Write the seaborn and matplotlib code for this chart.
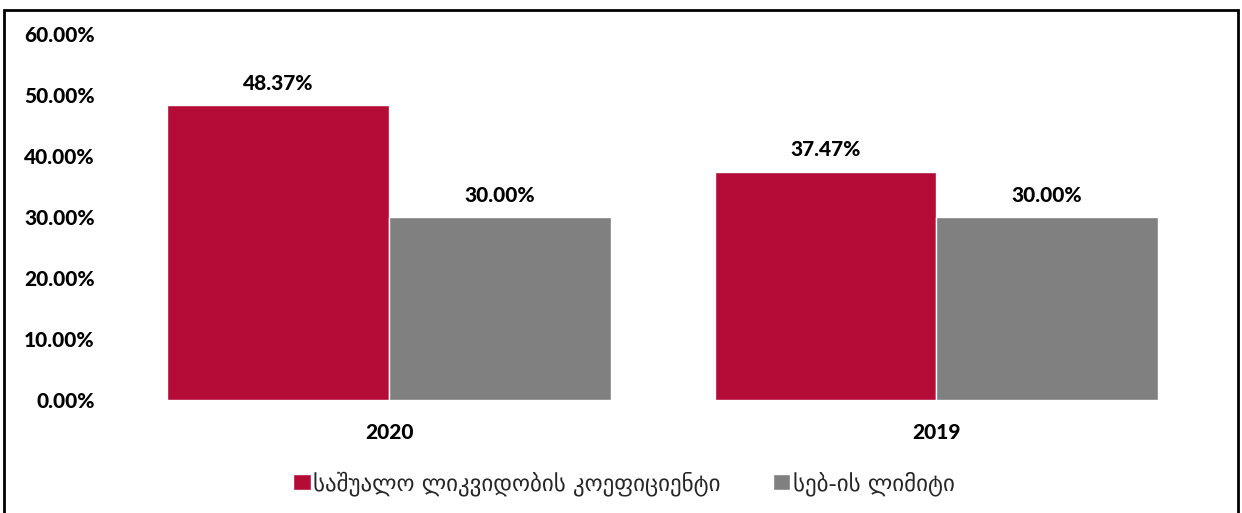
import matplotlib
matplotlib.use("Agg")
import matplotlib.pyplot as plt
import matplotlib.patches as mpatches
import seaborn as sns
import pandas as pd

years = ["2020", "2019"]
series_names = ["საშუალო ლიკვიდობის კოეფიციენტი", "სებ-ის ლიმიტი"]
avg_liquidity = [48.37, 37.47]
nbg_limit = [30.00, 30.00]
yticks = [0, 10, 20, 30, 40, 50, 60]
colors = ["#B40C37", "#808080"]

df = pd.DataFrame({
    "year": years * 2,
    "series": [series_names[0]] * 2 + [series_names[1]] * 2,
    "value": avg_liquidity + nbg_limit,
})

sns.set_theme(style="white")
plt.rcParams["font.family"] = ["Lato", "DejaVu Sans"]

fig = plt.figure(figsize=(12.42, 5.13), dpi=100)
ax = fig.add_axes([0.093, 0.2193, 0.881, 0.7144])

sns.barplot(data=df, x="year", y="value", hue="series", order=years,
            hue_order=series_names, palette=colors, saturation=1, width=0.81,
            edgecolor="white", linewidth=1, ax=ax, legend=True)

for container in ax.containers:
    ax.bar_label(container, labels=[f"{v:.2f}%" for v in container.datavalues],
                 padding=9, fontsize=15, fontweight=900, color="black")

ax.set_xlim(-0.5, 1.5)
ax.set_ylim(0, 60)
ax.set_yticks(yticks)
ax.set_yticklabels([f"{t:.2f}%" for t in yticks], fontsize=15, fontweight=900,
                   color="black")
ax.set_xticks(range(len(years)))
ax.set_xticklabels(years, fontsize=15, fontweight=900, color="black")
ax.tick_params(axis="x", pad=16, length=0)
ax.tick_params(axis="y", pad=15, length=0)
ax.set_xlabel("")
ax.set_ylabel("")
for s in ax.spines.values():
    s.set_visible(False)

handles, labels = ax.get_legend_handles_labels()
ax.legend_.remove()
fig.legend(handles, labels, loc="center", bbox_to_anchor=(0.5024, 0.058),
           ncol=2, frameon=False, handlelength=0.75, handleheight=0.75,
           handletextpad=0.1, columnspacing=2.3,
           prop={"family": "DejaVu Sans", "size": 16.5})

fig.patches.append(mpatches.Rectangle((0.0035, -0.01), 0.9935, 0.99, fill=False,
                                      edgecolor="black", linewidth=2,
                                      transform=fig.transFigure, figure=fig))

fig.savefig("out.png", dpi=100)
